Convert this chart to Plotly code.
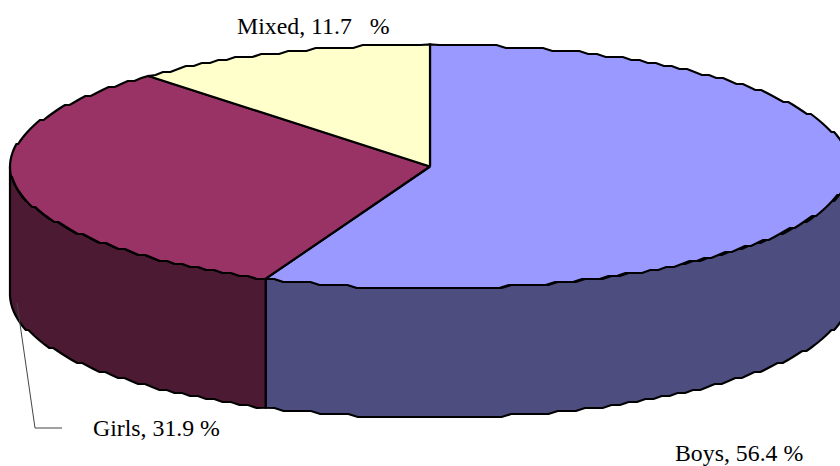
import numpy as np
import plotly.graph_objects as go

categories = ["Boys", "Girls", "Mixed"]
shares = [56.4, 31.9, 11.7]
top_colors = ["#9999FF", "#993366", "#FFFFCC"]
wall_colors = ["#4D4D80", "#4D1A33", "#808066"]

CX, CY, RX, RY, DEPTH = 430.0, 166.5, 420.0, 122.0, 129.0
STEP_DEG, GRID = 1.3, 3.0


def rim(theta, dy=0.0):
    """Point on the ellipse; theta in degrees, clockwise from the top."""
    t = np.radians(theta)
    return CX + RX * np.sin(t), CY - RY * np.cos(t) + dy


def arc(a, b, dy=0.0):
    """Rim arc, snapped to a coarse grid so the edge has the low-res wobble."""
    n = max(2, int(abs(b - a) / STEP_DEG) + 1)
    th = np.linspace(a, b, n)
    x, y = rim(th, dy)
    y = np.round(y / GRID) * GRID
    x[0], y[0] = rim(a, dy)
    x[-1], y[-1] = rim(b, dy)
    return x.tolist(), y.tolist()


fractions = np.array(shares) / sum(shares)
edges = np.concatenate([[0], np.cumsum(fractions) * 360])

fig = go.Figure()
OUTLINE = dict(color="black", width=2.2, simplify=False)

# Walls: only the front half of the disc (90 to 270 degrees) is visible
for i, name in enumerate(categories):
    a, b = max(edges[i], 90), min(edges[i + 1], 270)
    if a >= b:
        continue
    tx, ty = arc(a, b)
    bx, by = arc(b, a, DEPTH)
    fig.add_trace(go.Scatter(
        x=tx + bx + [tx[0]], y=ty + by + [ty[0]], mode="lines", fill="toself",
        fillcolor=wall_colors[i], line=OUTLINE, name=name, hoverinfo="name",
        showlegend=False))

# Top faces
for i, name in enumerate(categories):
    x, y = arc(edges[i], edges[i + 1])
    fig.add_trace(go.Scatter(
        x=[CX] + x + [CX], y=[CY] + y + [CY], mode="lines", fill="toself",
        fillcolor=top_colors[i], line=OUTLINE, name=name, hoverinfo="name",
        showlegend=False))

label_pos = {"Boys": (674, 452.5), "Girls": (92, 427.5), "Mixed": (236, 26)}
spacer = {"Boys": " ", "Girls": " ", "Mixed": "\u00a0\u00a0\u00a0"}
for name, val in zip(categories, shares):
    lx, ly = label_pos[name]
    fig.add_annotation(x=lx, y=ly, xref="x", yref="y", xanchor="left", yanchor="middle",
                       text=f"{name}, {val}{spacer[name]}%",
                       showarrow=False, xshift=-1,
                       font=dict(family="Liberation Serif", size=23.8, color="black"))

fig.add_shape(type="path", path="M 17 303 L 35 428 L 62 428", xref="x", yref="y",
              line=dict(color="#444444", width=1))

fig.update_layout(
    width=840, height=466, margin=dict(l=0, r=0, t=0, b=0),
    paper_bgcolor="white", plot_bgcolor="white", showlegend=False,
    xaxis=dict(range=[0, 840], visible=False, fixedrange=True),
    yaxis=dict(range=[466, 0], visible=False, fixedrange=True),
)
fig.write_html("out.html", config={"displayModeBar": False},
               post_script="document.body.style.margin='0';document.body.style.overflow='hidden';")
